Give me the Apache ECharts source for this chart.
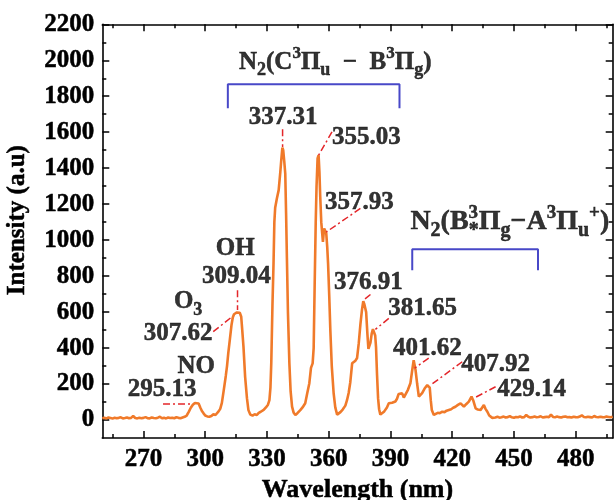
<!DOCTYPE html>
<html><head><meta charset="utf-8">
<script src="https://cdn.jsdelivr.net/npm/echarts@6/dist/echarts.min.js"></script>
<style>html,body{margin:0;padding:0;background:#fff}#c{width:615px;height:500px}</style>
</head><body><div id="c"></div>
<script>
// ---------------- data ----------------
const wavelength = [250,251,252,253,254,255,256,257,258,259,260,261,262,263,264,265,266,267,268,269,270,271,272,273,274,275,276,277,278,279,280,281,282,283,284,285,286,287,288,289,290,
291,292,293,294,295,295.9,296.8,297.6,298.4,299.2,300,301,302,303,304,305,305.7,306.5,307.3,308.1,309,310,310.6,311.2,312,312.8,313.4,314,314.6,315.4,316.2,316.8,317.5,318,318.6,319.4,320.3,321,321.9,323,324,325.1,326,327,328.4,329.5,330.5,331.2,331.7,332.1,332.7,333.2,333.6,334,334.8,335.7,336.5,337,337.5,337.9,338.4,338.9,339.3,339.7,340.2,340.9,341.5,342.2,343,343.8,344.8,345.5,346.2,347.3,348.6,349.6,350.6,351.4,352.2,352.7,353.2,353.7,354.1,354.6,355.1,355.5,355.9,356.4,356.9,357.2,357.5,357.8,358.3,358.8,359.3,359.7,360.3,360.8,361.5,362.4,363.2,364.1,365,365.7,366.8,368.1,368.9,369.7,370.5,371.4,372.2,373,373.8,374.6,375.4,376.2,376.8,377.3,378.2,378.8,379.3,379.8,380.3,380.9,381.5,382.1,382.6,383,383.5,384,384.5,385.1,386,387,387.6,388.3,389.2,390,390.8,391.6,392.4,393.2,394,394.8,395.7,396.5,397.3,398.5,399.7,400.5,401.3,402.2,403,403.8,404.6,405.4,406.6,407.9,408.5,409.1,409.6,410.1,411.1,412,413,414,415.2,416.3,417.3,418.4,419.5,420.5,421.6,422.8,424.1,424.9,425.7,426.8,428.1,429.4,430.2,431.4,432.5,433.8,434.6,435.4,436.2,437.1,438,438.7,439.5,
440,441,442,443,444,445,446,447,448,449,450,451,452,453,454,455,456,457,458,459,460,461,462,463,464,465,466,467,468,469,470,471,472,473,474,475,476,477,478,479,480,481,482,483,484,485,486,487,488,489,490,491,492,493,494,495,496,497,498];
const intensity = [10,12,9,14,11,8,13,10,12,15,9,11,14,10,12,22,11,9,13,10,12,16,10,9,14,11,10,13,18,10,12,9,14,11,13,10,15,12,10,14,18,
25,45,68,85,95,102,92,70,50,37,25,20,18,22,32,28,33,48,62,95,165,245,300,370,450,530,570,588,594,598,604,596,574,500,407,240,120,55,30,25,32,28,40,46,56,70,85,110,180,315,650,871,1100,1180,1230,1278,1380,1450,1515,1500,1440,1370,1150,900,600,315,160,74,40,28,38,42,55,70,93,150,205,290,315,400,760,1100,1300,1454,1472,1380,1240,1100,1030,990,1030,1065,1070,1040,960,871,680,500,300,150,70,30,38,44,58,80,110,150,210,315,325,330,345,426,530,615,660,645,600,480,395,400,430,480,505,495,470,407,250,120,60,30,37,48,56,70,93,88,96,100,103,118,145,152,148,125,130,168,204,270,333,278,200,130,140,150,175,194,192,180,110,56,28,34,40,38,46,44,52,56,60,68,74,84,93,82,74,88,102,130,110,65,58,56,70,83,62,46,25,14,12,
16,14,18,13,15,19,14,16,22,15,13,17,15,20,14,16,28,18,14,16,19,15,17,21,14,16,18,15,30,17,15,19,16,14,18,20,15,16,14,18,16,15,19,26,17,15,18,16,14,22,17,15,18,16,15,19,17,15,18];

// peak annotations: label text, label anchor (nm, a.u.), leader from label side to peak side
const peakText   = ['295.13','307.62','309.04','337.31','355.03','357.93','376.91','381.65','401.62','407.92','429.14'];
const peakLabelX = [279.1, 286.8, 315.1, 337.9, 378.3, 374.9, 379.3, 405.6, 408.0, 441.1, 458.6];
const peakLabelY = [167, 483, 800, 1683, 1572, 1211, 767, 622, 400, 306, 167];
const leaderFrom = [[279.5,89],[303.9,491],[315.7,722],[337.6,1617],[361.6,1602],[375.4,1176],[380.3,698],[389.2,565],[408.6,344],[424.9,324],[441.1,185]];
const leaderTo   = [[294.1,89],[313.0,574],[315.7,611],[337.6,1518],[355.1,1472],[358.8,1045],[377.0,667],[382.7,504],[401.8,289],[409.5,194],[430.5,121]];
// species labels
const speciesText = ['{b|NO}','{b|O}{s|3}','{b|OH}'];
const speciesX = [295.6, 291.7, 314.6];
const speciesY = [300, 656, 956];
// band system titles and brackets
const bandText = ['{b|N}{s|2}{b|(C}{p|3}{b|Π}{s|u}{b|  −  B}{p|3}{b|Π}{s|g}{b|)}',
                  '{B|N}{S|2}{B|(B}{Z|3}{S|*}{B|Π}{S|g}{B|−A}{P|3}{B|Π}{S|u}{P|+}{B|)}'];
const bandX = [363.2, 399.7];
const bandY = [1989, 1100];
const bracket1 = [[311,1733],[311,1867],[394.4,1867],[394.4,1733]];
const bracket2 = [[400.6,833],[400.6,950],[461.7,950],[461.7,833]];
// axis ticks
const xLabels = [270,300,330,360,390,420,450,480];
const yLabels = [0,200,400,600,800,1000,1200,1400,1600,1800,2000,2200];

// ---------------- layout ----------------
const FONT = "'Liberation Serif','Times New Roman',serif";
const L = 102.3, R = 2.3, T = 24.3, B = 62;
const XMIN = 250, XMAX = 498, YMIN = -100, YMAX = 2200;
const W = 615 - L - R, H = 500 - T - B;
function gx(lo, hi) { return {left: L + (lo - XMIN) * W / (XMAX - XMIN), right: R + (XMAX - hi) * W / (XMAX - XMIN), top: T, bottom: B, outerBoundsMode: 'none', containLabel: false}; }
function gy(lo, hi) { return {left: L, right: R, top: T + (YMAX - hi) * H / (YMAX - YMIN), bottom: B + (lo - YMIN) * H / (YMAX - YMIN), outerBoundsMode: 'none', containLabel: false}; }

const lineCol = '#000';
const TB = {textBorderColor: '#000', textBorderWidth: 0.5};
const grids = [
  {left: L, right: R, top: T, bottom: B, outerBoundsMode: 'none', containLabel: false},
  gx(255, 495), gx(270, 480), gy(100, 2100), gy(0, 2200)
];
const tickStyle = {color: lineCol, width: 1.5};
function xTickAxes(gi, lo, hi, len) {
  return ['bottom', 'top'].map(pos => ({
    type: 'value', gridIndex: gi, position: pos, min: lo, max: hi, interval: 30,
    axisLine: {show: false, onZero: false}, axisLabel: {show: false}, splitLine: {show: false},
    axisTick: {show: true, inside: true, length: len, lineStyle: tickStyle}
  }));
}
function yTickAxes(gi, lo, hi, len) {
  return ['left', 'right'].map(pos => ({
    type: 'value', gridIndex: gi, position: pos, min: lo, max: hi, interval: 200,
    axisLine: {show: false, onZero: false}, axisLabel: {show: false}, splitLine: {show: false},
    axisTick: {show: true, inside: true, length: len, lineStyle: tickStyle}
  }));
}
function hiddenX(gi) { return {type: 'value', gridIndex: gi, min: 0, max: 1, show: false, axisLine: {onZero: false}}; }
function hiddenY(gi) { return {type: 'value', gridIndex: gi, min: 0, max: 1, show: false, axisLine: {onZero: false}}; }

const xAxes = [
  {type: 'value', gridIndex: 0, position: 'bottom', min: XMIN, max: XMAX, interval: 10,
   axisLine: {onZero: false, lineStyle: {color: lineCol, width: 1.6}}, axisTick: {show: false}, splitLine: {show: false},
   axisLabel: Object.assign({margin: 9, color: '#000', fontFamily: FONT, fontWeight: 'bold', fontSize: 25,
     formatter: v => xLabels.indexOf(v) >= 0 ? String(v) : ''}, TB),
   name: 'Wavelength (nm)', nameLocation: 'middle', nameGap: 38,
   nameTextStyle: Object.assign({color: '#000', fontFamily: FONT, fontWeight: 'bold', fontSize: 26}, TB)},
  {type: 'value', gridIndex: 0, position: 'top', min: XMIN, max: XMAX,
   axisLine: {onZero: false, lineStyle: {color: lineCol, width: 1.6}}, axisTick: {show: false}, axisLabel: {show: false}, splitLine: {show: false}},
  ...xTickAxes(1, 255, 495, 4), ...xTickAxes(2, 270, 480, 7),
  hiddenX(3), hiddenX(4)
];
const yAxes = [
  {type: 'value', gridIndex: 0, position: 'left', min: YMIN, max: YMAX, interval: 100,
   axisLine: {onZero: false, lineStyle: {color: lineCol, width: 1.6}}, axisTick: {show: false}, splitLine: {show: false},
   axisLabel: Object.assign({margin: 8, color: '#000', fontFamily: FONT, fontWeight: 'bold', fontSize: 25,
     formatter: v => yLabels.indexOf(v) >= 0 ? String(v) : ''}, TB),
   name: 'Intensity (a.u)', nameLocation: 'middle', nameGap: 72, nameRotate: 90,
   nameTextStyle: Object.assign({color: '#000', fontFamily: FONT, fontWeight: 'bold', fontSize: 25, padding: [0, 0, 0, 22]}, TB)},
  {type: 'value', gridIndex: 0, position: 'right', min: YMIN, max: YMAX,
   axisLine: {onZero: false, lineStyle: {color: lineCol, width: 1.6}}, axisTick: {show: false}, axisLabel: {show: false}, splitLine: {show: false}},
  hiddenY(1), hiddenY(2),
  ...yTickAxes(3, 100, 2100, 4), ...yTickAxes(4, 0, 2200, 7)
];

function rs(size, lh, va, extra) {
  return Object.assign({fontFamily: FONT, fontWeight: 'bold', fontSize: size, lineHeight: lh, color: '#000'}, TB,
    va ? {verticalAlign: va} : {}, extra || {});
}
const rich = {
  b: rs(25, 34), s: rs(18, 15, 'bottom'), p: rs(17, 20, 'top'),
  B: rs(28, 38), S: rs(20, 17, 'bottom'), P: rs(19, 22, 'top'), Z: rs(19, 22, 'top', {width: 0.1})
};

const series = [];
series.push({
  type: 'line', xAxisIndex: 0, yAxisIndex: 0, showSymbol: false, symbol: 'none', animation: false,
  lineStyle: {color: '#F07A2A', width: 2.6}, z: 3,
  data: wavelength.map((w, i) => [w, intensity[i]])
});
leaderFrom.forEach((p, i) => {
  series.push({type: 'line', xAxisIndex: 0, yAxisIndex: 0, symbol: 'none', animation: false, silent: true, z: 4,
    lineStyle: {color: '#E3262A', width: 1.5, type: [7, 3, 2, 3]}, data: [p, leaderTo[i]]});
});
[bracket1, bracket2].forEach(br => {
  series.push({type: 'line', xAxisIndex: 0, yAxisIndex: 0, symbol: 'none', animation: false, silent: true, z: 4,
    lineStyle: {color: '#4848C8', width: 2}, data: br});
});
const labelItems = [];
peakText.forEach((t, i) => labelItems.push({value: [peakLabelX[i], peakLabelY[i]], name: '{b|' + t + '}'}));
speciesText.forEach((t, i) => labelItems.push({value: [speciesX[i], speciesY[i]], name: t}));
bandText.forEach((t, i) => labelItems.push({value: [bandX[i], bandY[i]], name: t,
  label: {align: i === 1 ? 'left' : 'center'}}));
series.push({
  type: 'scatter', xAxisIndex: 0, yAxisIndex: 0, symbolSize: 1, animation: false, silent: true, z: 5,
  itemStyle: {color: 'rgba(0,0,0,0)'},
  label: {show: true, position: 'inside', formatter: p => p.name, rich: rich,
    fontFamily: FONT, fontWeight: 'bold', fontSize: 25, color: '#000'},
  data: labelItems
});

const chart = echarts.init(document.getElementById('c'), null, {renderer: 'canvas'});
chart.setOption({
  backgroundColor: '#ffffff',
  animation: false,
  grid: grids,
  xAxis: xAxes,
  yAxis: yAxes,
  series: series
});
</script></body></html>
